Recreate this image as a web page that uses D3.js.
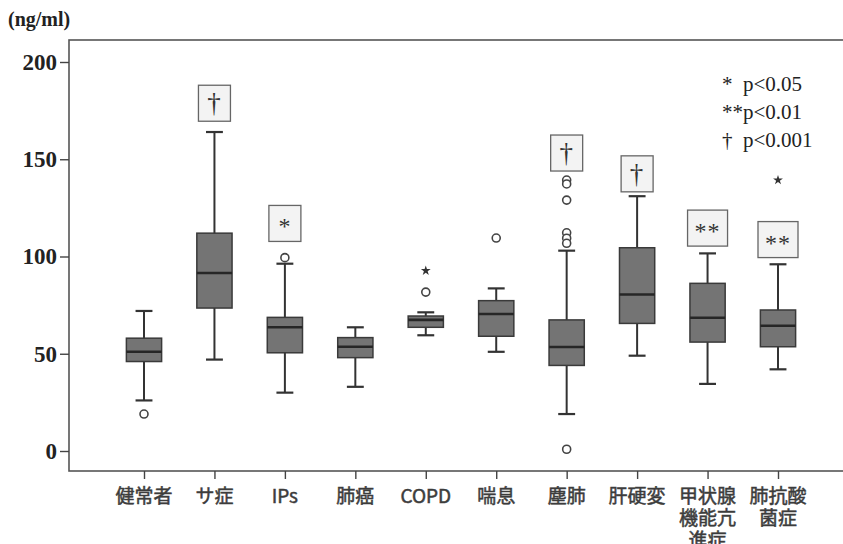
<!DOCTYPE html>
<html>
<head>
<meta charset="utf-8">
<script src="https://cdn.jsdelivr.net/npm/d3@7"></script>
<style>
  body { margin: 0; background: #fff; }
  svg { display: block; }
</style>
</head>
<body>
<div id="chart"></div>
<script>
// categories, one entry per box; multi-line labels split into lines
const categories = ['健常者', 'サ症', 'IPs', '肺癌', 'COPD', '喘息', '塵肺', '肝硬変', '甲状腺機能亢進症', '肺抗酸菌症'];
const labelLines = [['健常者'], ['サ症'], ['IPs'], ['肺癌'], ['COPD'], ['喘息'], ['塵肺'], ['肝硬変'], ['甲状腺', '機能亢', '進症'], ['肺抗酸', '菌症']];

const whiskerLow = [26, 47, 30, 33, 59.5, 51, 19, 49, 34.5, 42];
const q1 = [46, 73.5, 50.5, 48, 63.6, 59, 44, 65.6, 56, 53.6];
const medians = [51, 91.5, 63.6, 53.6, 67.4, 70.4, 53.5, 80.5, 68.5, 64.4];
const q3 = [58, 112, 68.7, 58.3, 69.4, 77.3, 67.4, 104.5, 86.2, 72.5];
const whiskerHigh = [72, 164, 96.3, 63.6, 71.3, 83.6, 103, 131, 101.6, 96];

// circles = outliers, stars = extremes
const outliers = [[19], [], [99.4], [], [81.7], [109.5], [139.3, 137.3, 129, 112.2, 109.4, 106.8, 0.9], [], [], []];
const extremes = [[], [], [], [], [92.7], [], [], [], [], [139.3]];

// significance marks, with the value at the middle of each mark's box
const sigMarks = ['', '†', '*', '', '', '', '†', '†', '**', '**'];
const sigLevel = [0, 178.8, 117, 0, 0, 0, 153.2, 142.5, 114.6, 108.7];

const yTicks = [0, 50, 100, 150, 200];
const legendLines = [['*', 'p<0.05'], ['**', 'p<0.01'], ['†', 'p<0.001']];

const W = 843, H = 544;
const frame = { left: 69, top: 40, right: 845, bottom: 471 };

const svg = d3.select('#chart').append('svg')
    .attr('width', W)
    .attr('height', H);

const x = d3.scalePoint().domain(categories).range([144, 778]);
const y = d3.scaleLinear().domain([0, 200]).range([451, 62]);
const step = x.step();
const boxW = step * 0.5;
const capW = step * 0.24;

// frame
svg.append('rect')
    .attr('x', frame.left)
    .attr('y', frame.top)
    .attr('width', frame.right - frame.left)
    .attr('height', frame.bottom - frame.top)
    .attr('fill', 'none')
    .attr('stroke', '#555')
    .attr('stroke-width', 1.6);

// y axis
const yAxis = svg.append('g')
    .attr('transform', `translate(${frame.left},0)`)
    .call(d3.axisLeft(y).tickValues(yTicks).tickSize(9).tickPadding(3));
yAxis.select('.domain').remove();
yAxis.selectAll('line').attr('stroke', '#444').attr('stroke-width', 1.4);
yAxis.selectAll('text')
    .attr('font-family', '"Liberation Serif", serif')
    .attr('font-weight', 'bold')
    .attr('font-size', 23)
    .attr('fill', '#222');

svg.append('text')
    .attr('x', 8)
    .attr('y', 26)
    .attr('font-family', '"Liberation Serif", serif')
    .attr('font-weight', 'bold')
    .attr('font-size', 20)
    .attr('fill', '#222')
    .text('(ng/ml)');

// x axis
const xAxis = svg.append('g')
    .attr('transform', `translate(0,${frame.bottom})`)
    .call(d3.axisBottom(x).tickSize(8).tickFormat(''));
xAxis.select('.domain').remove();
xAxis.selectAll('line').attr('stroke', '#444').attr('stroke-width', 1.4);

const labels = svg.append('g').selectAll('text')
    .data(categories)
    .join('text')
    .attr('x', d => x(d))
    .attr('y', 503)
    .attr('text-anchor', 'middle')
    .attr('font-family', '"Noto Sans CJK JP", sans-serif')
    .attr('font-size', 19)
    .attr('fill', '#3c3c3c')
    .attr('stroke', '#3c3c3c')
    .attr('stroke-width', 0.5);
labels.selectAll('tspan')
    .data((d, i) => labelLines[i])
    .join('tspan')
    .attr('x', function () { return d3.select(this.parentNode).attr('x'); })
    .attr('dy', (d, i) => i === 0 ? 0 : 22)
    .text(d => d);

// boxes
const groups = svg.append('g').selectAll('g')
    .data(categories)
    .join('g')
    .attr('transform', d => `translate(${x(d)},0)`);

groups.append('line')
    .attr('y1', (d, i) => y(whiskerHigh[i]))
    .attr('y2', (d, i) => y(whiskerLow[i]))
    .attr('stroke', '#333')
    .attr('stroke-width', 2);

groups.selectAll('line.cap')
    .data((d, i) => [whiskerLow[i], whiskerHigh[i]])
    .join('line')
    .attr('class', 'cap')
    .attr('x1', -capW / 2)
    .attr('x2', capW / 2)
    .attr('y1', v => y(v))
    .attr('y2', v => y(v))
    .attr('stroke', '#333')
    .attr('stroke-width', 2.2);

groups.append('rect')
    .attr('x', -boxW / 2)
    .attr('width', boxW)
    .attr('y', (d, i) => y(q3[i]))
    .attr('height', (d, i) => y(q1[i]) - y(q3[i]))
    .attr('fill', '#747474')
    .attr('stroke', '#3a3a3a')
    .attr('stroke-width', 1.5);

groups.append('line')
    .attr('x1', -boxW / 2)
    .attr('x2', boxW / 2)
    .attr('y1', (d, i) => y(medians[i]))
    .attr('y2', (d, i) => y(medians[i]))
    .attr('stroke', '#262626')
    .attr('stroke-width', 2.6);

groups.selectAll('circle')
    .data((d, i) => outliers[i])
    .join('circle')
    .attr('cy', v => y(v))
    .attr('r', 4)
    .attr('fill', '#fff')
    .attr('stroke', '#444')
    .attr('stroke-width', 1.6);

groups.selectAll('path.extreme')
    .data((d, i) => extremes[i])
    .join('path')
    .attr('class', 'extreme')
    .attr('transform', v => `translate(0,${y(v)})`)
    .attr('d', d3.symbol(d3.symbolStar, 30))
    .attr('fill', '#333');

// significance boxes
const sig = groups.filter((d, i) => sigMarks[i] !== '');
const markOf = d => sigMarks[categories.indexOf(d)];
const levelOf = d => y(sigLevel[categories.indexOf(d)]);
sig.append('rect')
    .attr('x', d => -(markOf(d).length > 1 ? 20 : 16))
    .attr('width', d => markOf(d).length > 1 ? 40 : 32)
    .attr('y', d => levelOf(d) - 18)
    .attr('height', 36)
    .attr('fill', '#f3f3f3')
    .attr('stroke', '#666')
    .attr('stroke-width', 1.3);
sig.append('text')
    .attr('y', d => levelOf(d) + (markOf(d) === '†' ? 9 : 11))
    .attr('text-anchor', 'middle')
    .attr('font-family', '"Liberation Serif", serif')
    .attr('font-size', d => markOf(d) === '†' ? 27 : 24)
    .attr('letter-spacing', 1)
    .attr('fill', '#333')
    .text(d => markOf(d));

// legend
const legend = svg.append('g')
    .attr('font-family', '"Liberation Serif", serif')
    .attr('font-size', 21)
    .attr('fill', '#222');
legend.selectAll('text.sym')
    .data(legendLines)
    .join('text')
    .attr('class', 'sym')
    .attr('x', 722)
    .attr('y', (d, i) => 91 + i * 28)
    .text(d => d[0]);
legend.selectAll('text.lab')
    .data(legendLines)
    .join('text')
    .attr('class', 'lab')
    .attr('x', 743)
    .attr('y', (d, i) => 91 + i * 28)
    .text(d => d[1]);
</script>
</body>
</html>
